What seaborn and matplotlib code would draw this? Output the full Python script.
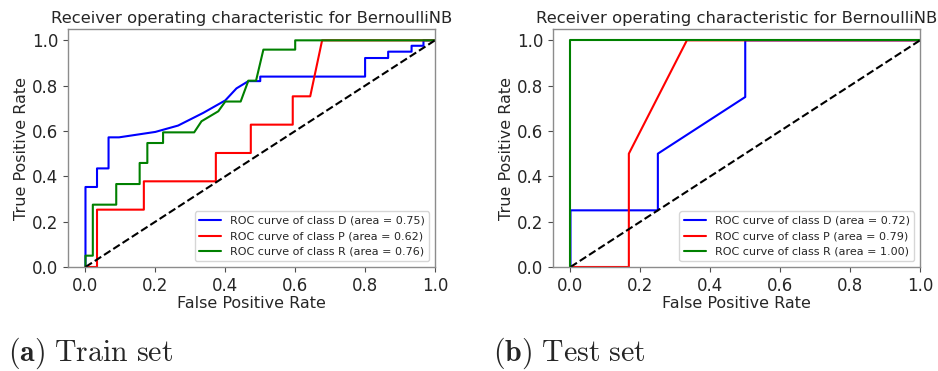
import matplotlib
matplotlib.use("Agg")
import matplotlib.pyplot as plt
import seaborn as sns
import pandas as pd

sns.set_style("white")
plt.rcParams['font.family'] = ['DejaVu Sans']
plt.rcParams['mathtext.fontset'] = 'cm'

classes = ['D', 'P', 'R']
colors = ['blue', 'red', 'green']

# train set ROC points
train_fpr = {
    'D': [0.0, 0.0, 0.033, 0.033, 0.066, 0.066, 0.096, 0.2, 0.265, 0.337, 0.40, 0.432, 0.466,
          0.5, 0.5, 0.80, 0.80, 0.866, 0.866, 0.933, 0.933, 0.967, 0.967, 1.0],
    'P': [0.0, 0.033, 0.033, 0.167, 0.167, 0.373, 0.373, 0.473, 0.473, 0.593, 0.593, 0.643,
          0.677, 1.0],
    'R': [0.0, 0.0, 0.021, 0.021, 0.088, 0.088, 0.155, 0.155, 0.177, 0.177, 0.222, 0.222,
          0.311, 0.332, 0.38, 0.40, 0.444, 0.466, 0.488, 0.509, 0.6, 0.6, 1.0],
}
train_tpr = {
    'D': [0.0, 0.353, 0.353, 0.435, 0.435, 0.572, 0.572, 0.596, 0.624, 0.68, 0.735, 0.788, 0.82,
          0.82, 0.84, 0.84, 0.922, 0.922, 0.95, 0.95, 0.976, 0.976, 1.0, 1.0],
    'P': [0.0, 0.0, 0.253, 0.253, 0.378, 0.378, 0.503, 0.503, 0.628, 0.628, 0.753, 0.753,
          1.0, 1.0],
    'R': [0.0, 0.05, 0.05, 0.275, 0.275, 0.366, 0.366, 0.459, 0.459, 0.547, 0.547, 0.594,
          0.594, 0.643, 0.687, 0.73, 0.73, 0.822, 0.822, 0.959, 0.959, 1.0, 1.0],
}
train_auc = {'D': 0.75, 'P': 0.62, 'R': 0.76}

# test set ROC points
test_fpr = {
    'D': [0.0, 0.0, 0.25, 0.25, 0.5, 0.5, 1.0],
    'P': [0.0, 0.167, 0.167, 0.333, 1.0],
    'R': [0.0, 0.0, 1.0],
}
test_tpr = {
    'D': [0.0, 0.25, 0.25, 0.5, 0.75, 1.0, 1.0],
    'P': [0.0, 0.0, 0.5, 1.0, 1.0],
    'R': [0.0, 1.0, 1.0],
}
test_auc = {'D': 0.72, 'P': 0.79, 'R': 1.00}

captions = [('(a)', 'Train set'), ('(b)', 'Test set')]


def plot_roc(ax, fpr, tpr, auc):
    for cls, col in zip(classes, colors):
        df = pd.DataFrame({'fpr': fpr[cls], 'tpr': tpr[cls]})
        sns.lineplot(data=df, x='fpr', y='tpr', ax=ax, color=col, lw=1.5, sort=False,
                     estimator=None, label=f"ROC curve of class {cls} (area = {auc[cls]:.2f})")
    ax.plot([0, 1], [0, 1], 'k--', lw=1.5)
    ax.set_xlim(-0.05, 1.0)
    ax.set_ylim(0.0, 1.05)
    ax.set_xticks([0.0, 0.2, 0.4, 0.6, 0.8, 1.0])
    ax.set_yticks([0.0, 0.2, 0.4, 0.6, 0.8, 1.0])
    ax.tick_params(labelsize=12, length=3.5, width=0.8, color='0.3', bottom=True, left=True)
    ax.set_xlabel("False Positive Rate", fontsize=11.5, labelpad=1)
    ax.set_ylabel("True Positive Rate", fontsize=11.5, labelpad=2)
    ax.set_title("Receiver operating characteristic for BernoulliNB", fontsize=11.8, pad=4)
    for s in ax.spines.values():
        s.set_color('0.55')
        s.set_linewidth(1.0)
    ax.legend(loc='lower right', fontsize=8.0, handlelength=2.0, borderpad=0.4)


fig = plt.figure(figsize=(9.38, 3.71), dpi=100)
ax1 = fig.add_axes([68 / 938, 104 / 371, 367 / 938, 238 / 371])
ax2 = fig.add_axes([553 / 938, 104 / 371, 367 / 938, 238 / 371])

plot_roc(ax1, train_fpr, train_tpr, train_auc)
plot_roc(ax2, test_fpr, test_tpr, test_auc)

for (lab, txt), x in zip(captions, [8 / 938, 493 / 938]):
    t = fig.text(x, 10 / 371, r'$\mathbf{' + lab + r'}\ \mathrm{' + txt.replace(' ', r'\ ') + '}$',
                 fontsize=21.5, ha='left', va='baseline')

fig.savefig("out.png", dpi=100)
